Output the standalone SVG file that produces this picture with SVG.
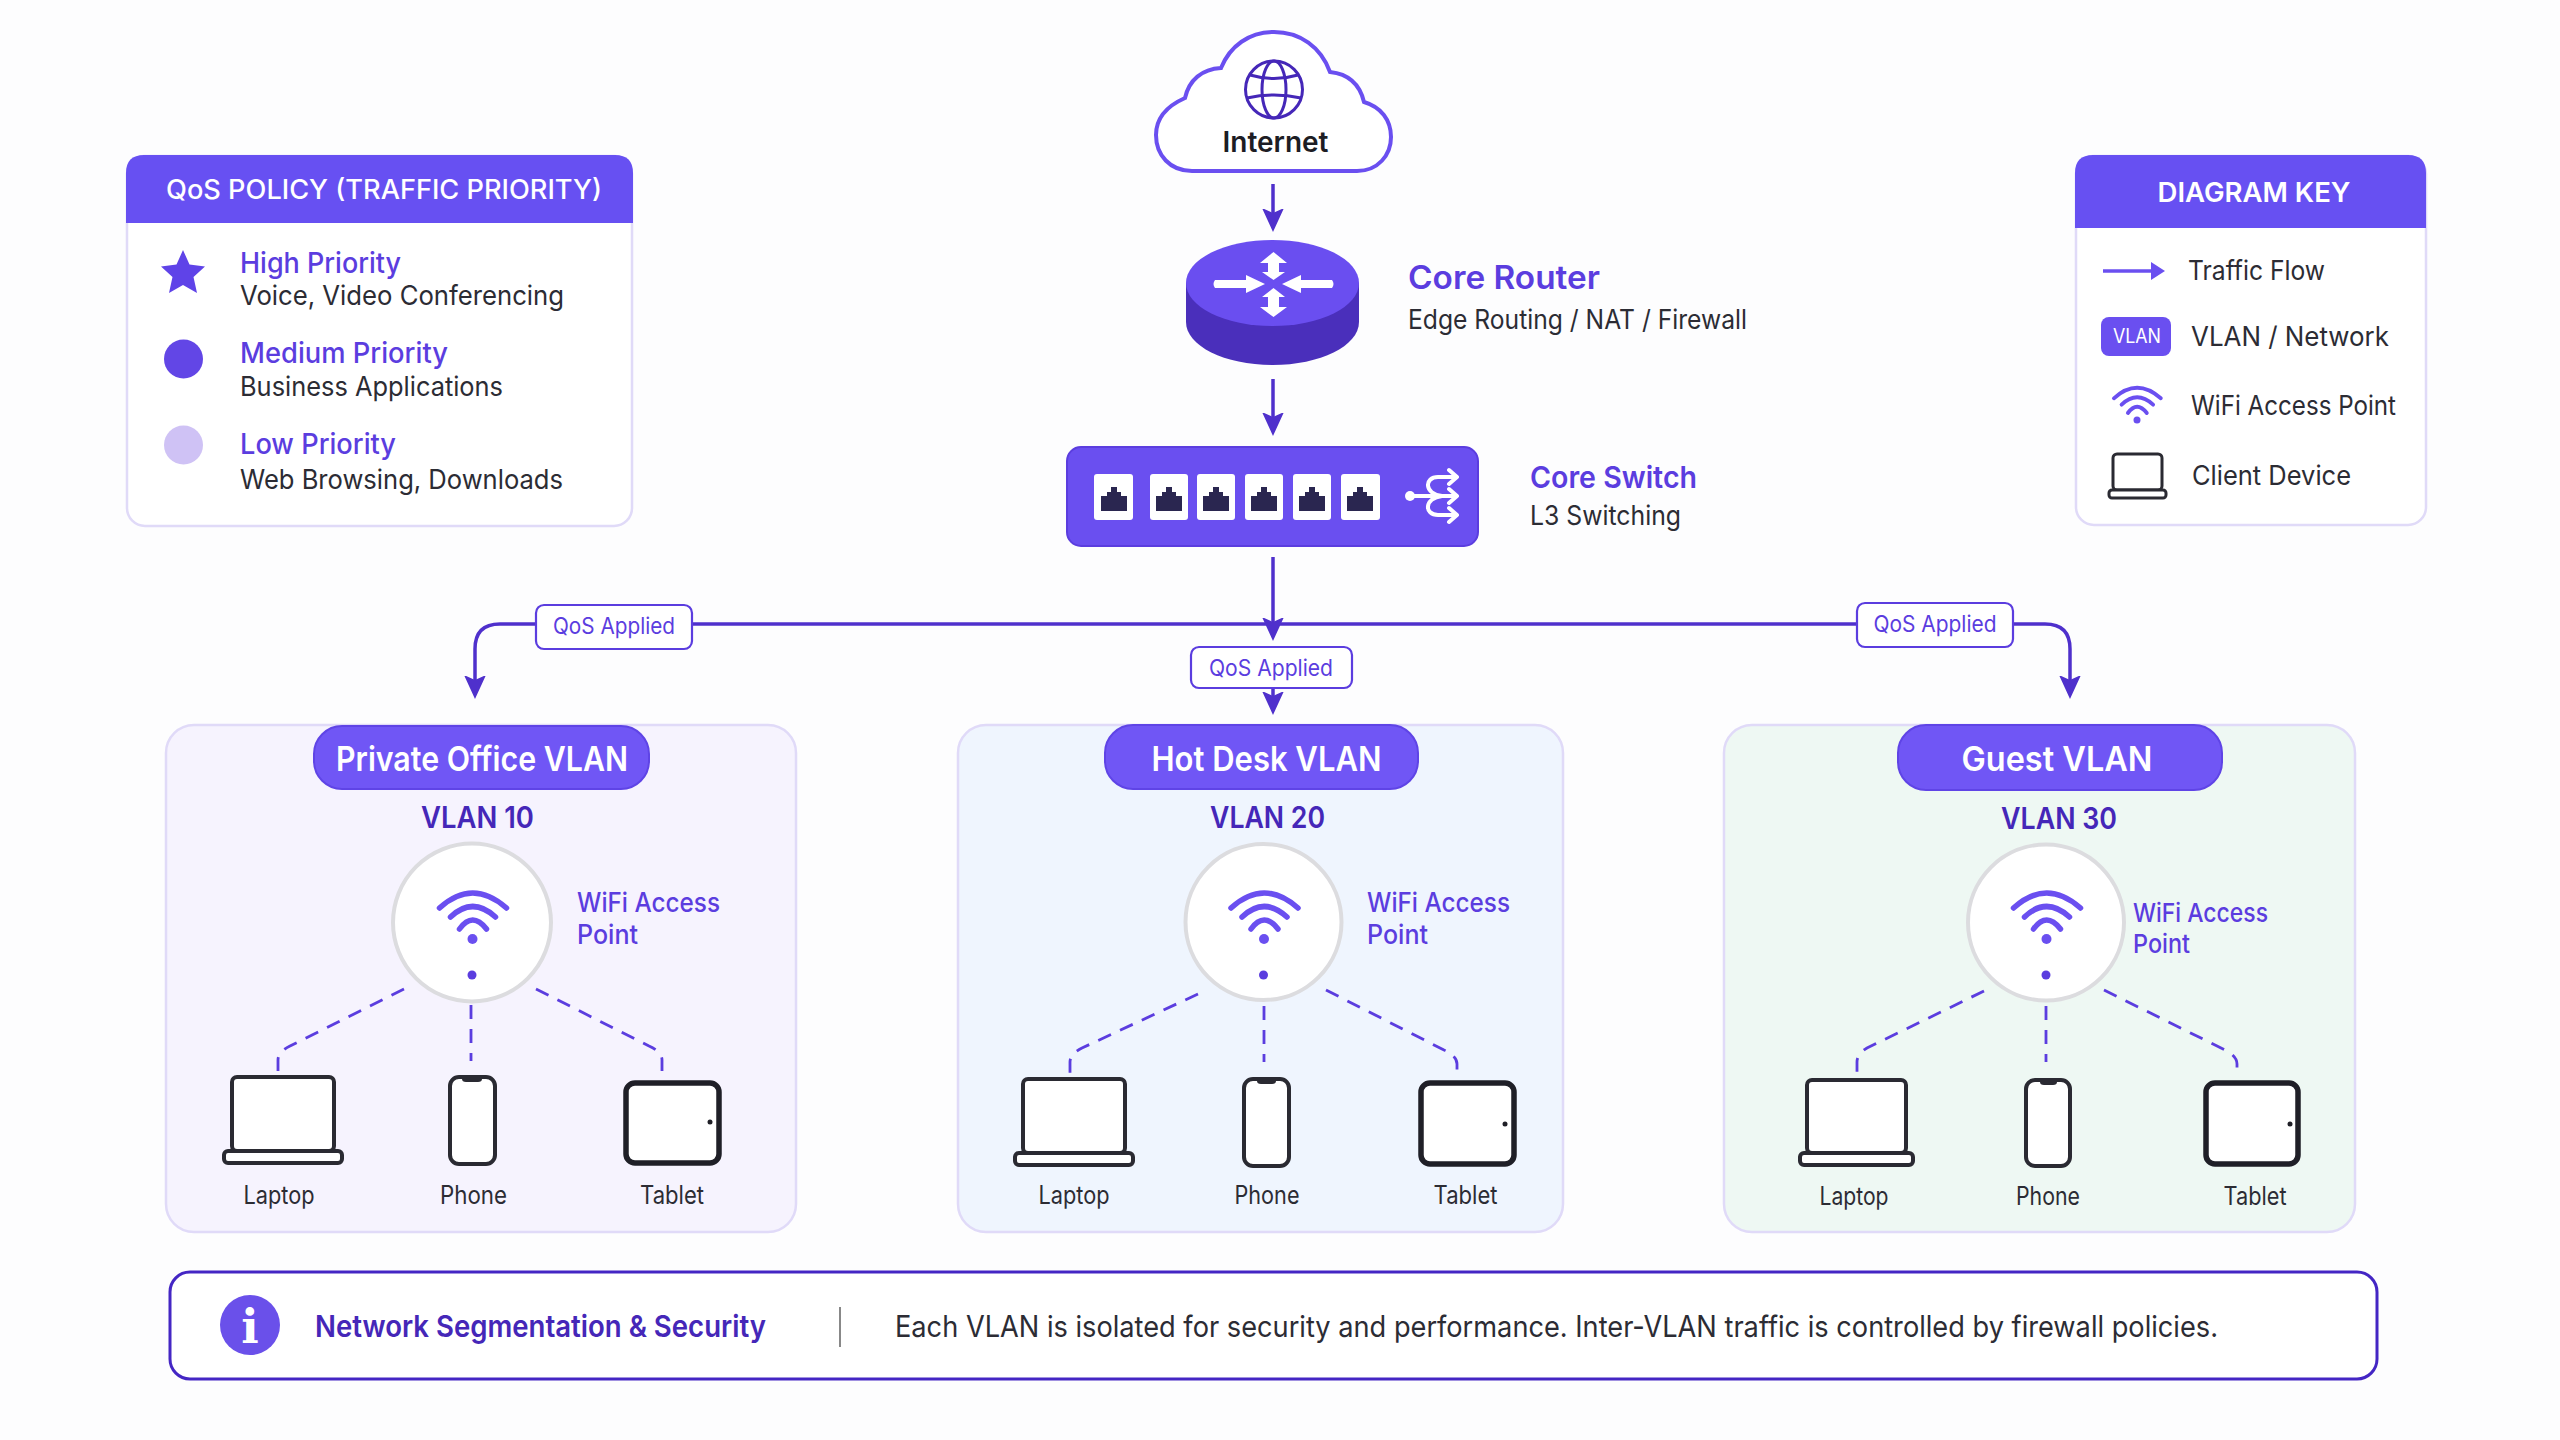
<svg xmlns="http://www.w3.org/2000/svg" width="2560" height="1440" viewBox="0 0 2560 1440">
<style>
text{font-family:Inter,"Noto Sans","Liberation Sans",sans-serif}
.p{fill:#5b3ddf}
.d{fill:#4527b8}
.k{fill:#2c2c34}
.w{fill:#fff}
.s4{font-weight:400}
.s5{font-weight:500}
.s6{font-weight:600}
.m{text-anchor:middle}
.panel{stroke:#e0daf8;stroke-width:2.5}
.hdr{fill:#6750f2}
.pill{fill:#7056f5;stroke:#5f44e6;stroke-width:2}
.ap{fill:#fff;stroke:#dcdcdf;stroke-width:4}
.dev{fill:#fff;stroke:#2a2a32;stroke-width:4;stroke-linejoin:round}
.tab{fill:#fff;stroke:#1f1f27;stroke-width:5.5}
.wire{fill:none;stroke:#4f30cc;stroke-width:3.5}
.dash{fill:none;stroke:#5b3ddf;stroke-width:2.8;stroke-dasharray:14 10}
.tag{fill:#fff;stroke:#5b3ddf;stroke-width:2.2}
.wf{fill:none;stroke:#6a4ff0;stroke-width:5.5;stroke-linecap:round}
.port{fill:#fff}
.ico{fill:none;stroke:#fff;stroke-width:4;stroke-linecap:round}
</style>
<defs>
<marker id="head" markerUnits="userSpaceOnUse" markerWidth="26" markerHeight="26" refX="8" refY="12" orient="auto">
<path d="M-1 1L23 12L-1 23L4 12z" fill="#4f30cc"/>
</marker>
<marker id="keyhead" markerUnits="userSpaceOnUse" markerWidth="20" markerHeight="24" refX="6" refY="12" orient="auto">
<path d="M0 3L14 12L0 21z" fill="#6a4ff0"/>
</marker>
<g id="wifi">
<path class="wf" d="M-33-31Q0-61 34-31"/>
<path class="wf" d="M-22-22Q0-43 23-22"/>
<path class="wf" d="M-13-10Q0-28 14-10"/>
<circle r="5" fill="#6a4ff0"/>
</g>
<path id="rj" d="M-13 12V-3H-7V-7H-3V-12H3V-7H7V-3H13V12z" fill="#2a2650"/>
</defs>
<rect width="2560" height="1440" fill="#fdfdfe"/>

<g id="qos-policy">
<rect x="127" y="156" width="505" height="370" rx="18" fill="#fff" class="panel"/>
<path class="hdr" d="M126 223V173Q126 155 144 155H615Q633 155 633 173V223z"/>
<text class="w s5 m" x="384" y="199" font-size="26.5" textLength="436" lengthAdjust="spacingAndGlyphs">QoS POLICY (TRAFFIC PRIORITY)</text>
<path d="M183 250L189.500 264.500L205 266.500L193.500 277L197 293L183 285L169 293L172.500 277L161 266.500L176.500 264.500z" fill="#5f43e8"/>
<circle cx="183.500" cy="359" r="19.500" fill="#6246e6"/>
<circle cx="183.500" cy="445" r="19.500" fill="#cfc2f5"/>
<text class="p s5" x="240" y="273" font-size="28" textLength="161" lengthAdjust="spacingAndGlyphs">High Priority</text>
<text class="k s4" x="240" y="305" font-size="27" textLength="324" lengthAdjust="spacingAndGlyphs">Voice, Video Conferencing</text>
<text class="p s5" x="240" y="363" font-size="28" textLength="208" lengthAdjust="spacingAndGlyphs">Medium Priority</text>
<text class="k s4" x="240" y="396" font-size="27" textLength="263" lengthAdjust="spacingAndGlyphs">Business Applications</text>
<text class="p s5" x="240" y="454" font-size="28" textLength="156" lengthAdjust="spacingAndGlyphs">Low Priority</text>
<text class="k s4" x="240" y="489" font-size="27" textLength="323" lengthAdjust="spacingAndGlyphs">Web Browsing, Downloads</text>
</g>

<g id="diagram-key">
<rect x="2076" y="156" width="350" height="369" rx="18" fill="#fff" class="panel"/>
<path class="hdr" d="M2075 228V173Q2075 155 2093 155H2408Q2426 155 2426 173V228z"/>
<text class="w s6 m" x="2254" y="202" font-size="27" textLength="193" lengthAdjust="spacingAndGlyphs">DIAGRAM KEY</text>
<line x1="2103" y1="271" x2="2157" y2="271" stroke="#6a4ff0" stroke-width="3.500" marker-end="url(#keyhead)"/>
<text class="k s4" x="2188" y="280" font-size="27" textLength="137" lengthAdjust="spacingAndGlyphs">Traffic Flow</text>
<rect x="2101" y="317" width="70" height="39" rx="8" fill="#6a4ff0"/>
<text class="w s4 m" x="2137" y="343" font-size="19.500" textLength="48" lengthAdjust="spacingAndGlyphs">VLAN</text>
<text class="k s4" x="2191" y="346" font-size="27" textLength="198" lengthAdjust="spacingAndGlyphs">VLAN / Network</text>
<use href="#wifi" transform="translate(2137 420) scale(.7)"/>
<text class="k s4" x="2191" y="415" font-size="27" textLength="205" lengthAdjust="spacingAndGlyphs">WiFi Access Point</text>
<rect x="2113" y="454" width="49" height="36" rx="4" fill="#fff" stroke="#2a2a32" stroke-width="3"/>
<rect x="2109" y="490" width="57" height="8" rx="3" fill="#fff" stroke="#2a2a32" stroke-width="3"/>
<text class="k s4" x="2192" y="485" font-size="27" textLength="159" lengthAdjust="spacingAndGlyphs">Client Device</text>
</g>

<g id="internet">
<path d="M1192 171H1357C1378 171 1391 155 1391 137C1391 120 1381 107 1364 102C1360 85 1349 74 1330 72C1321 47 1300 32 1274 32C1249 32 1230 46 1221 68C1202 69 1189 80 1185 98C1167 106 1156 118 1156 135C1156 155 1170 171 1192 171z" fill="#fff" stroke="#6a4ff0" stroke-width="4"/>
<g fill="none" stroke="#4527b8" stroke-width="3">
<circle cx="1274" cy="89.500" r="28.500"/>
<ellipse cx="1274" cy="89.500" rx="12" ry="28.500"/>
<path d="M1250 75Q1274 82 1298 75M1247 98Q1274 92 1301 98"/>
</g>
<text class="s6 m" x="1275.500" y="152" font-size="28" fill="#1d1d24" textLength="106" lengthAdjust="spacingAndGlyphs">Internet</text>
</g>

<g id="core-router">
<path d="M1186 283V322C1186 346 1225 365 1272.500 365C1320 365 1359 346 1359 322V283z" fill="#4a2fbb"/>
<ellipse cx="1272.500" cy="283" rx="86.500" ry="43" fill="#6a4ef0"/>
<g fill="#fff">
<path d="M1215 280H1246V275L1265 284L1246 293V288H1215Q1212 284 1215 280z"/>
<path d="M1332 280H1301V275L1282 284L1301 293V288H1332Q1335 284 1332 280z"/>
<path d="M1273.500 252L1287 263H1279V272H1285L1273.500 280L1262 272H1268V263H1260z"/>
<path d="M1273.500 288L1285 297H1279V307H1287L1273.500 317L1260 307H1268V297H1262z"/>
</g>
<text class="p s6" x="1408" y="289" font-size="32" textLength="192" lengthAdjust="spacingAndGlyphs">Core Router</text>
<text class="k s4" x="1408" y="329" font-size="26.500" textLength="339" lengthAdjust="spacingAndGlyphs">Edge Routing / NAT / Firewall</text>
</g>

<g id="core-switch">
<rect x="1067" y="447" width="411" height="99" rx="14" fill="#6a4ff0" stroke="#5b3ddf" stroke-width="2"/>
<rect class="port" x="1094" y="474" width="39" height="46" rx="3"/><use href="#rj" x="1114" y="499"/>
<rect class="port" x="1150" y="474" width="38" height="46" rx="3"/><use href="#rj" x="1169" y="499"/>
<rect class="port" x="1197" y="474" width="38" height="46" rx="3"/><use href="#rj" x="1216" y="499"/>
<rect class="port" x="1245" y="474" width="38" height="46" rx="3"/><use href="#rj" x="1264" y="499"/>
<rect class="port" x="1293" y="474" width="38" height="46" rx="3"/><use href="#rj" x="1312" y="499"/>
<rect class="port" x="1341" y="474" width="39" height="46" rx="3"/><use href="#rj" x="1360" y="499"/>
<circle cx="1410" cy="496" r="5" fill="#fff"/>
<path class="ico" d="M1410 496H1456M1456 477H1438C1424 477 1424 494 1442 496M1456 515H1438C1424 515 1424 498 1442 496M1449 470L1457 477L1449 484M1449 489L1457 496L1449 503M1449 508L1457 515L1449 522" stroke-linejoin="round"/>
<text class="p s6" x="1530" y="488" font-size="30" textLength="167" lengthAdjust="spacingAndGlyphs">Core Switch</text>
<text class="k s4" x="1530" y="525" font-size="27" textLength="151" lengthAdjust="spacingAndGlyphs">L3 Switching</text>
</g>

<g id="vlan-10">
<rect class="panel" x="166" y="725" width="630" height="507" rx="28" fill="#f6f3fe"/>
<rect class="pill" x="314" y="726" width="335" height="63" rx="28"/>
<text class="w s6 m" x="482" y="771" font-size="34" textLength="292" lengthAdjust="spacingAndGlyphs">Private Office VLAN</text>
<text class="d s6 m" x="477.500" y="828" font-size="30" textLength="113" lengthAdjust="spacingAndGlyphs">VLAN 10</text>
<g id="ap-10"><circle class="ap" cx="472" cy="922.500" r="79"/><use href="#wifi" x="472.500" y="939"/><circle cx="472" cy="975" r="4.500" fill="#5b3ddf"/></g>
<text class="p s5" x="577" y="912" font-size="27" textLength="143" lengthAdjust="spacingAndGlyphs">WiFi Access</text>
<text class="p s5" x="577" y="944" font-size="27" textLength="61" lengthAdjust="spacingAndGlyphs">Point</text>
<g id="laptop-10"><rect class="dev" x="232" y="1077" width="102" height="74" rx="5"/><rect class="dev" x="224" y="1151" width="118" height="12" rx="4"/></g>
<g id="phone-10"><rect class="dev" x="450" y="1077" width="45" height="87" rx="9"/><path d="M462 1077H482V1079Q482 1082 478 1082H466Q462 1082 462 1079z" fill="#2a2a32"/></g>
<g id="tablet-10"><rect class="tab" x="626" y="1083" width="93" height="80" rx="9"/><circle cx="710" cy="1122" r="2.500" fill="#1f1f27"/></g>
<text class="k s4 m" x="279" y="1204" font-size="25" textLength="71" lengthAdjust="spacingAndGlyphs">Laptop</text>
<text class="k s4 m" x="473.500" y="1204" font-size="25" textLength="67" lengthAdjust="spacingAndGlyphs">Phone</text>
<text class="k s4 m" x="672" y="1204" font-size="25" textLength="64" lengthAdjust="spacingAndGlyphs">Tablet</text>
</g>

<g id="vlan-20">
<rect class="panel" x="958" y="725" width="605" height="507" rx="28" fill="#eff5fe"/>
<rect class="pill" x="1105" y="725" width="313" height="64" rx="28"/>
<text class="w s6 m" x="1266.500" y="771" font-size="34" textLength="230" lengthAdjust="spacingAndGlyphs">Hot Desk VLAN</text>
<text class="d s6 m" x="1267.500" y="828" font-size="30" textLength="115" lengthAdjust="spacingAndGlyphs">VLAN 20</text>
<g id="ap-20"><circle class="ap" cx="1263.500" cy="922" r="78"/><use href="#wifi" x="1264" y="939"/><circle cx="1263.500" cy="975" r="4.500" fill="#5b3ddf"/></g>
<text class="p s5" x="1367" y="912" font-size="27" textLength="143" lengthAdjust="spacingAndGlyphs">WiFi Access</text>
<text class="p s5" x="1367" y="944" font-size="27" textLength="61" lengthAdjust="spacingAndGlyphs">Point</text>
<g id="laptop-20"><rect class="dev" x="1023" y="1079" width="102" height="74" rx="5"/><rect class="dev" x="1015" y="1153" width="118" height="12" rx="4"/></g>
<g id="phone-20"><rect class="dev" x="1244" y="1079" width="45" height="87" rx="9"/><path d="M1257 1079H1276V1081Q1276 1084 1272 1084H1261Q1257 1084 1257 1081z" fill="#2a2a32"/></g>
<g id="tablet-20"><rect class="tab" x="1421" y="1083" width="93" height="81" rx="9"/><circle cx="1505" cy="1124" r="2.500" fill="#1f1f27"/></g>
<text class="k s4 m" x="1074" y="1204" font-size="25" textLength="71" lengthAdjust="spacingAndGlyphs">Laptop</text>
<text class="k s4 m" x="1267" y="1204" font-size="25" textLength="65" lengthAdjust="spacingAndGlyphs">Phone</text>
<text class="k s4 m" x="1465.500" y="1204" font-size="25" textLength="64" lengthAdjust="spacingAndGlyphs">Tablet</text>
</g>

<g id="vlan-30">
<rect class="panel" x="1724" y="725" width="631" height="507" rx="28" fill="#eef8f3"/>
<rect class="pill" x="1898" y="725" width="324" height="65" rx="28"/>
<text class="w s6 m" x="2057" y="771" font-size="34" textLength="191" lengthAdjust="spacingAndGlyphs">Guest VLAN</text>
<text class="d s6 m" x="2059" y="829" font-size="30" textLength="116" lengthAdjust="spacingAndGlyphs">VLAN 30</text>
<g id="ap-30"><circle class="ap" cx="2046" cy="922.500" r="78"/><use href="#wifi" x="2046.500" y="939"/><circle cx="2046" cy="975" r="4.500" fill="#5b3ddf"/></g>
<text class="p s5" x="2133" y="922" font-size="26" textLength="135" lengthAdjust="spacingAndGlyphs">WiFi Access</text>
<text class="p s5" x="2133" y="953" font-size="26" textLength="57" lengthAdjust="spacingAndGlyphs">Point</text>
<g id="laptop-30"><rect class="dev" x="1807" y="1080" width="99" height="73" rx="5"/><rect class="dev" x="1800" y="1153" width="113" height="12" rx="4"/></g>
<g id="phone-30"><rect class="dev" x="2026" y="1080" width="44" height="86" rx="9"/><path d="M2040 1080H2057V1082Q2057 1085 2053 1085H2044Q2040 1085 2040 1082z" fill="#2a2a32"/></g>
<g id="tablet-30"><rect class="tab" x="2206" y="1083" width="92" height="81" rx="9"/><circle cx="2290" cy="1124" r="2.500" fill="#1f1f27"/></g>
<text class="k s4 m" x="1854" y="1205" font-size="25" textLength="69" lengthAdjust="spacingAndGlyphs">Laptop</text>
<text class="k s4 m" x="2048" y="1205" font-size="25" textLength="64" lengthAdjust="spacingAndGlyphs">Phone</text>
<text class="k s4 m" x="2255" y="1205" font-size="25" textLength="63" lengthAdjust="spacingAndGlyphs">Tablet</text>
</g>

<g id="connectors">
<line class="wire" x1="1273" y1="184" x2="1273" y2="217" marker-end="url(#head)"/>
<line class="wire" x1="1273" y1="379" x2="1273" y2="421" marker-end="url(#head)"/>
<line class="wire" x1="1273" y1="557" x2="1273" y2="626" marker-end="url(#head)"/>
<line class="wire" x1="1273" y1="688" x2="1273" y2="700" marker-end="url(#head)"/>
<path class="wire" d="M1857 624H692"/>
<path class="wire" d="M692 624H500Q475 624 475 649V684" marker-end="url(#head)"/>
<path class="wire" d="M1857 624H2045Q2070 624 2070 649V684" marker-end="url(#head)"/>
<path class="dash" d="M404 989L290 1046Q278 1052 278 1060V1071"/>
<path class="dash" d="M471 1005V1061"/>
<path class="dash" d="M536 989L649 1046Q662 1052 662 1060V1071"/>
<path class="dash" d="M1198 994L1082 1048Q1070 1054 1070 1062V1073"/>
<path class="dash" d="M1264 1006V1062"/>
<path class="dash" d="M1326 990L1444 1050Q1457 1056 1457 1064V1074"/>
<path class="dash" d="M1984 991L1867 1048Q1857 1054 1857 1062V1072"/>
<path class="dash" d="M2046 1006V1062"/>
<path class="dash" d="M2104 990L2225 1050Q2237 1056 2237 1064V1074"/>
<rect class="tag" x="536" y="605" width="156" height="44" rx="8"/>
<text class="p s4 m" x="614" y="634" font-size="22.500" textLength="122" lengthAdjust="spacingAndGlyphs">QoS Applied</text>
<rect class="tag" x="1191" y="647" width="161" height="41" rx="8"/>
<text class="p s4 m" x="1271" y="676" font-size="22.500" textLength="124" lengthAdjust="spacingAndGlyphs">QoS Applied</text>
<rect class="tag" x="1857" y="603" width="156" height="44" rx="8"/>
<text class="p s4 m" x="1935" y="632" font-size="22.500" textLength="123" lengthAdjust="spacingAndGlyphs">QoS Applied</text>
</g>

<g id="note">
<rect x="170" y="1272" width="2207" height="107" rx="20" fill="#fff" stroke="#4426c4" stroke-width="3"/>
<circle cx="250" cy="1325" r="30" fill="#6a50ea"/>
<text x="250" y="1343" font-size="46" class="w m" font-weight="700" style="font-family:'DejaVu Serif',serif">i</text>
<text class="d s6" x="315" y="1337" font-size="30" textLength="451" lengthAdjust="spacingAndGlyphs">Network Segmentation &amp; Security</text>
<line x1="840" y1="1307" x2="840" y2="1347" stroke="#888" stroke-width="2"/>
<text class="k s4" x="895" y="1337" font-size="29.500" textLength="1323" lengthAdjust="spacingAndGlyphs">Each VLAN is isolated for security and performance. Inter-VLAN traffic is controlled by firewall policies.</text>
</g>
</svg>
